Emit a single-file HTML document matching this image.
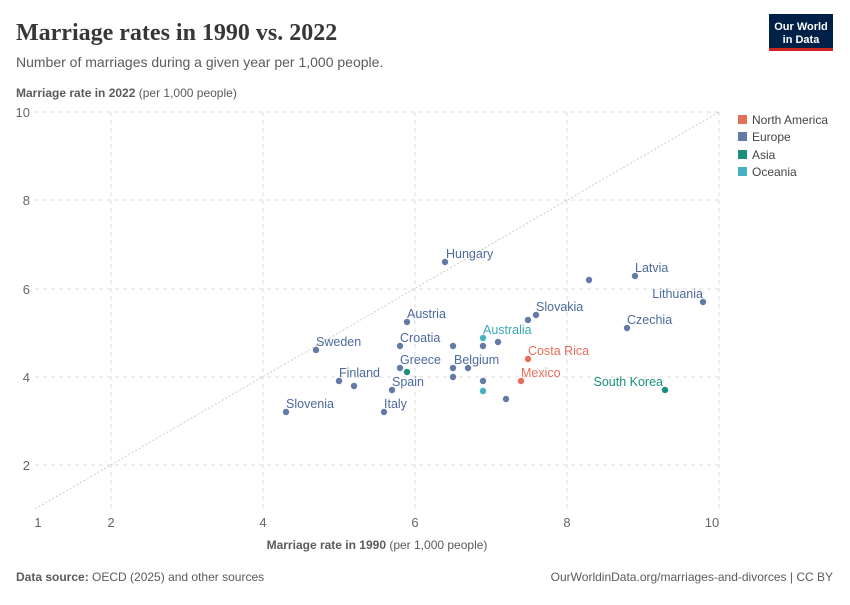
<!DOCTYPE html>
<html><head><meta charset="utf-8"><style>
body{margin:0;background:#fff;font-family:"Liberation Sans",sans-serif;}
</style></head><body>
<svg width="850" height="600" xmlns="http://www.w3.org/2000/svg" font-family="Liberation Sans, sans-serif">
<text x="16" y="40" font-family="Liberation Serif, serif" font-size="24" font-weight="bold" fill="#373737">Marriage rates in 1990 vs. 2022</text>
<text x="16" y="67" font-size="14" fill="#5b5b5b">Number of marriages during a given year per 1,000 people.</text>
<rect x="769" y="14" width="64" height="36" fill="#002147"/>
<rect x="769" y="48" width="64" height="3" fill="#ce261e"/>
<text x="801" y="30" font-size="11" fill="#fff" text-anchor="middle" font-weight="bold">Our World</text>
<text x="801" y="43" font-size="11" fill="#fff" text-anchor="middle" font-weight="bold">in Data</text>
<text x="16" y="97" font-size="12" fill="#5b5b5b"><tspan font-weight="bold">Marriage rate in 2022</tspan> (per 1,000 people)</text>
<g stroke="#ddd" stroke-dasharray="4,4" stroke-width="1">
<line x1="35" x2="719" y1="112" y2="112"/><line x1="35" x2="719" y1="200" y2="200"/><line x1="35" x2="719" y1="289" y2="289"/><line x1="35" x2="719" y1="377" y2="377"/><line x1="35" x2="719" y1="465" y2="465"/>
<line x1="111" x2="111" y1="112" y2="509"/><line x1="263" x2="263" y1="112" y2="509"/><line x1="415" x2="415" y1="112" y2="509"/><line x1="567" x2="567" y1="112" y2="509"/><line x1="719" x2="719" y1="112" y2="509"/>
</g>
<line x1="35" y1="509" x2="719" y2="112" stroke="#ccc" stroke-dasharray="2,2"/>
<g font-size="13" fill="#666" text-anchor="end">
<text x="30" y="117">10</text><text x="30" y="205">8</text><text x="30" y="294">6</text><text x="30" y="382">4</text><text x="30" y="470">2</text></g>
<g font-size="13" fill="#666" text-anchor="middle">
<text x="38" y="527">1</text><text x="111" y="527">2</text><text x="263" y="527">4</text><text x="415" y="527">6</text><text x="567" y="527">8</text><text x="712" y="527">10</text></g>
<text x="377" y="549" font-size="12" fill="#5b5b5b" text-anchor="middle"><tspan font-weight="bold">Marriage rate in 1990</tspan> (per 1,000 people)</text>
<g fill="#6379a6">
<circle cx="445" cy="262" r="3.2"/><circle cx="407" cy="322" r="3.2"/><circle cx="528" cy="320" r="3.2"/><circle cx="536" cy="315" r="3.2"/>
<circle cx="400" cy="346" r="3.2"/><circle cx="453" cy="346" r="3.2"/><circle cx="483" cy="346" r="3.2"/><circle cx="498" cy="342" r="3.2"/>
<circle cx="316" cy="350" r="3.2"/><circle cx="400" cy="368" r="3.2"/><circle cx="453" cy="368" r="3.2"/><circle cx="468" cy="368" r="3.2"/>
<circle cx="453" cy="377" r="3.2"/><circle cx="483" cy="381" r="3.2"/><circle cx="339" cy="381" r="3.2"/><circle cx="354" cy="386" r="3.2"/>
<circle cx="392" cy="390" r="3.2"/><circle cx="506" cy="399" r="3.2"/><circle cx="286" cy="412" r="3.2"/><circle cx="384" cy="412" r="3.2"/>
<circle cx="589" cy="280" r="3.2"/><circle cx="635" cy="276" r="3.2"/><circle cx="703" cy="302" r="3.2"/><circle cx="627" cy="328" r="3.2"/>
</g>
<g fill="#e56e5a"><circle cx="528" cy="359" r="3.2"/><circle cx="521" cy="381" r="3.2"/></g>
<g fill="#1a8f7d"><circle cx="407" cy="372" r="3.2"/><circle cx="665" cy="390" r="3.2"/></g>
<g fill="#46b1c1"><circle cx="483" cy="338" r="3.2"/><circle cx="483" cy="391" r="3.2"/></g>
<g font-size="12.5" fill="#4c6a9c">
<text x="446" y="258">Hungary</text><text x="407" y="318">Austria</text><text x="536" y="311">Slovakia</text>
<text x="400" y="342">Croatia</text><text x="316" y="346">Sweden</text><text x="400" y="364">Greece</text>
<text x="454" y="364">Belgium</text><text x="339" y="377">Finland</text><text x="392" y="386">Spain</text>
<text x="286" y="408">Slovenia</text><text x="384" y="408">Italy</text>
<text x="635" y="272">Latvia</text><text x="703" y="298" text-anchor="end">Lithuania</text><text x="627" y="324">Czechia</text>
</g>
<text x="483" y="334" font-size="12.5" fill="#3aaabb">Australia</text>
<text x="528" y="355" font-size="12.5" fill="#e56e5a">Costa Rica</text>
<text x="521" y="377" font-size="12.5" fill="#e56e5a">Mexico</text>
<text x="663" y="386" font-size="12.5" fill="#1a8f7d" text-anchor="end">South Korea</text>
<g font-size="12" fill="#444">
<rect x="738" y="115" width="9" height="9" fill="#e56e5a"/><text x="752" y="124">North America</text>
<rect x="738" y="132" width="9" height="9" fill="#6379a6"/><text x="752" y="141">Europe</text>
<rect x="738" y="150" width="9" height="9" fill="#1a8f7d"/><text x="752" y="159">Asia</text>
<rect x="738" y="167" width="9" height="9" fill="#46b1c1"/><text x="752" y="176">Oceania</text>
</g>
<text x="16" y="581" font-size="12" fill="#5b5b5b"><tspan font-weight="bold">Data source:</tspan> OECD (2025) and other sources</text>
<text x="833" y="581" font-size="12" fill="#5b5b5b" text-anchor="end">OurWorldinData.org/marriages-and-divorces | CC BY</text>
</svg>
</body></html>
